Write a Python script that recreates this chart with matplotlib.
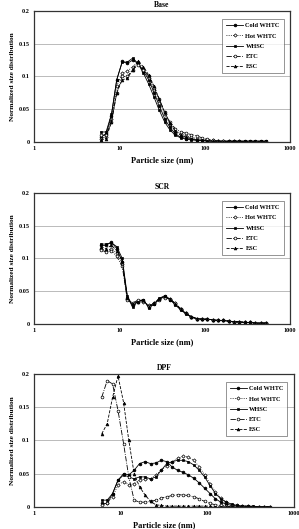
import matplotlib
matplotlib.use("Agg")
from matplotlib import pyplot as plt
from matplotlib.ticker import FixedLocator, FixedFormatter, NullLocator

plt.rcParams['font.family'] = ['Liberation Serif', 'DejaVu Serif']
plt.rcParams['font.weight'] = 'bold'

# diametros de los canales (nm)
sizes = [6.04, 6.98, 8.06, 9.31, 10.8, 12.4, 14.3, 16.5, 19.1, 22.1, 25.5, 29.4,
         34.0, 39.2, 45.3, 52.3, 60.4, 69.8, 80.6, 93.1, 107.5, 124.1, 143.3,
         165.5, 191.1, 220.7, 254.8, 294.3, 339.8, 392.4, 453.2, 523.3]

labels = ["Cold WHTC", "Hot WHTC", "WHSC", "ETC", "ESC"]
titles = ["Base", "SCR", "DPF"]

# Base
cold_base = [0.008, 0.012, 0.040, 0.095, 0.123, 0.120, 0.125, 0.120, 0.108, 0.095, 0.075, 0.055,
             0.035, 0.022, 0.012, 0.007, 0.005, 0.004, 0.003, 0.002, 0.002, 0.001, 0.001,
             0.001, 0.001, 0.001, 0.001, 0.001, 0.001, 0.001, 0.001, 0.001]
hot_base = [0.005, 0.008, 0.035, 0.085, 0.105, 0.108, 0.115, 0.122, 0.112, 0.098, 0.080, 0.060,
            0.042, 0.027, 0.017, 0.012, 0.009, 0.007, 0.005, 0.004, 0.003, 0.002, 0.001,
            0.001, 0.001, 0.001, 0.001, 0.000, 0.000, 0.000, 0.000, 0.000]
whsc_base = [0.015, 0.015, 0.042, 0.095, 0.122, 0.122, 0.128, 0.120, 0.105, 0.088, 0.068, 0.048,
             0.030, 0.018, 0.010, 0.006, 0.004, 0.003, 0.002, 0.002, 0.001, 0.001, 0.001,
             0.001, 0.001, 0.001, 0.001, 0.001, 0.001, 0.001, 0.001, 0.001]
etc_base = [0.010, 0.010, 0.030, 0.075, 0.100, 0.100, 0.110, 0.118, 0.110, 0.100, 0.083, 0.065,
            0.045, 0.030, 0.020, 0.015, 0.013, 0.011, 0.009, 0.006, 0.004, 0.002, 0.001,
            0.001, 0.000, 0.000, 0.000, 0.000, 0.000, 0.000, 0.000, 0.000]
esc_base = [0.003, 0.005, 0.030, 0.075, 0.095, 0.097, 0.110, 0.123, 0.115, 0.102, 0.085, 0.065,
            0.045, 0.028, 0.016, 0.010, 0.007, 0.005, 0.003, 0.002, 0.001, 0.001, 0.001,
            0.000, 0.000, 0.000, 0.000, 0.000, 0.000, 0.000, 0.000, 0.000]

# SCR
cold_scr = [0.120, 0.120, 0.125, 0.115, 0.095, 0.040, 0.028, 0.035, 0.036, 0.026, 0.030, 0.038,
            0.042, 0.037, 0.030, 0.022, 0.016, 0.010, 0.008, 0.007, 0.007, 0.006, 0.005,
            0.005, 0.004, 0.003, 0.003, 0.002, 0.002, 0.001, 0.001, 0.001]
hot_scr = [0.115, 0.112, 0.115, 0.108, 0.092, 0.038, 0.030, 0.033, 0.034, 0.028, 0.032, 0.038,
           0.041, 0.038, 0.031, 0.023, 0.016, 0.011, 0.008, 0.007, 0.007, 0.006, 0.005,
           0.005, 0.004, 0.003, 0.003, 0.002, 0.002, 0.001, 0.001, 0.001]
whsc_scr = [0.122, 0.122, 0.124, 0.118, 0.100, 0.042, 0.025, 0.035, 0.037, 0.024, 0.030, 0.039,
            0.043, 0.037, 0.029, 0.021, 0.015, 0.010, 0.008, 0.007, 0.007, 0.006, 0.005,
            0.005, 0.004, 0.003, 0.003, 0.002, 0.002, 0.001, 0.001, 0.001]
etc_scr = [0.113, 0.110, 0.112, 0.103, 0.088, 0.036, 0.032, 0.036, 0.035, 0.027, 0.031, 0.037,
           0.040, 0.038, 0.031, 0.023, 0.016, 0.011, 0.008, 0.007, 0.007, 0.006, 0.005,
           0.005, 0.004, 0.003, 0.003, 0.002, 0.002, 0.001, 0.001, 0.001]
esc_scr = [0.118, 0.115, 0.120, 0.112, 0.096, 0.040, 0.030, 0.034, 0.036, 0.026, 0.032, 0.038,
           0.042, 0.038, 0.030, 0.022, 0.016, 0.010, 0.008, 0.007, 0.007, 0.006, 0.005,
           0.005, 0.004, 0.003, 0.003, 0.002, 0.002, 0.001, 0.001, 0.001]

# DPF
cold_dpf = [0.005, 0.005, 0.020, 0.040, 0.050, 0.048, 0.055, 0.065, 0.068, 0.065, 0.066, 0.070,
            0.068, 0.060, 0.055, 0.052, 0.048, 0.043, 0.036, 0.028, 0.020, 0.012, 0.007,
            0.004, 0.002, 0.001, 0.001, 0.001, 0.000, 0.000, 0.000, 0.000]
hot_dpf = [0.002, 0.005, 0.015, 0.033, 0.038, 0.033, 0.035, 0.040, 0.042, 0.042, 0.048, 0.055,
           0.062, 0.068, 0.073, 0.076, 0.075, 0.070, 0.060, 0.048, 0.035, 0.022, 0.013,
           0.007, 0.003, 0.002, 0.001, 0.001, 0.000, 0.000, 0.000, 0.000]
whsc_dpf = [0.010, 0.010, 0.020, 0.040, 0.048, 0.045, 0.042, 0.045, 0.045, 0.042, 0.045, 0.055,
            0.065, 0.068, 0.070, 0.070, 0.068, 0.063, 0.055, 0.045, 0.032, 0.020, 0.012,
            0.007, 0.004, 0.002, 0.001, 0.001, 0.001, 0.000, 0.000, 0.000]
etc_dpf = [0.165, 0.190, 0.185, 0.145, 0.095, 0.045, 0.010, 0.007, 0.007, 0.008, 0.010, 0.013,
           0.015, 0.017, 0.018, 0.018, 0.017, 0.015, 0.012, 0.008, 0.005, 0.003, 0.002,
           0.001, 0.000, 0.000, 0.000, 0.000, 0.000, 0.000, 0.000, 0.000]
esc_dpf = [0.110, 0.125, 0.165, 0.197, 0.157, 0.100, 0.050, 0.030, 0.018, 0.008, 0.003, 0.002,
           0.001, 0.001, 0.001, 0.001, 0.001, 0.001, 0.001, 0.001, 0.001, 0.000, 0.000,
           0.000, 0.000, 0.000, 0.000, 0.000, 0.000, 0.000, 0.000, 0.000]

panels = [
    [cold_base, hot_base, whsc_base, etc_base, esc_base],
    [cold_scr, hot_scr, whsc_scr, etc_scr, esc_scr],
    [cold_dpf, hot_dpf, whsc_dpf, etc_dpf, esc_dpf],
]

# estilo de cada serie: (linestyle, marker, relleno)
estilos = [
    ("-", "o", "black"),
    (":", "D", "white"),
    ("-", "s", "black"),
    ("-.", "o", "white"),
    ("--", "^", "black"),
]

# posiciones de los ejes [left, bottom, width, height]
rects = [
    [0.114, 0.732, 0.856, 0.247],
    [0.114, 0.388, 0.856, 0.247],
    [0.114, 0.042, 0.869, 0.251],
]

fig = plt.figure(figsize=(2.99, 5.29), dpi=100)

for titulo, series, rect in zip(titles, panels, rects):
    ax = fig.add_axes(rect)
    for serie, lab, (ls, mk, fc) in zip(series, labels, estilos):
        ms = 2.0 if mk != "D" else 1.7
        ax.plot(sizes, serie, linestyle=ls, marker=mk, color="black", lw=0.6,
                markersize=ms, markerfacecolor=fc, markeredgewidth=0.5, label=lab)
    ax.set_xscale("log")
    ax.set_xlim(1, 1000)
    ax.set_ylim(0, 0.2)
    ax.xaxis.set_major_locator(FixedLocator([1, 10, 100, 1000]))
    ax.xaxis.set_major_formatter(FixedFormatter(["1", "10", "100", "1000"]))
    ax.xaxis.set_minor_locator(NullLocator())
    ax.set_yticks([0, 0.05, 0.1, 0.15, 0.2])
    ax.set_yticklabels(["0", "0.05", "0.1", "0.15", "0.2"])
    ax.tick_params(labelsize=4.5, length=0, pad=3)
    ax.grid(axis="y", color="#b0b0b0", lw=0.6)
    ax.set_axisbelow(True)
    for s in ax.spines.values():
        s.set_linewidth(0.9)
        s.set_color("#333333")
    ax.set_title(titulo, fontsize=5.5, fontweight="bold", pad=3)
    ax.set_xlabel("Particle size (nm)", fontsize=6, fontweight="bold", labelpad=4)
    ax.set_ylabel("Normalized size distribution", fontsize=5.3, fontweight="bold", labelpad=3)
    leg = ax.legend(loc="upper right", bbox_to_anchor=(0.975, 0.94), fontsize=4.6,
                    frameon=True, fancybox=False, edgecolor="#444444",
                    handlelength=2.6, handletextpad=0.4, labelspacing=0.75,
                    borderpad=0.6, borderaxespad=0)
    leg.get_frame().set_linewidth(0.5)

fig.savefig("out.png", dpi=100)
